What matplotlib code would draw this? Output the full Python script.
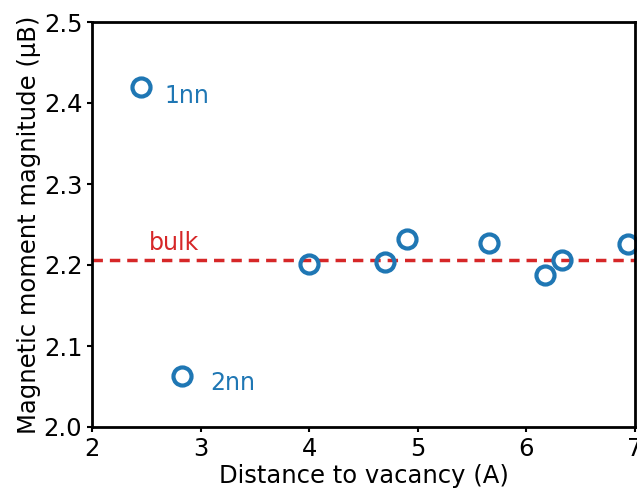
import matplotlib
matplotlib.use('Agg')
import matplotlib.pyplot as plt

# 距离空位的距离 和 磁矩
dist = [2.45, 2.83, 4.00, 4.70, 4.90, 5.66, 6.17, 6.33, 6.94]
moment = [2.420, 2.063, 2.201, 2.204, 2.232, 2.227, 2.188, 2.206, 2.226]
bulk = 2.206

labels = ['1nn', '2nn', 'bulk']
label_pos = [(2.67, 2.409), (3.09, 2.054), (2.52, 2.227)]

fig = plt.figure(figsize=(6.37, 4.88), dpi=100)
ax = fig.add_axes([92 / 637, 61 / 488, 543 / 637, 405 / 488])

ax.axhline(bulk, color='#d62728', linestyle='--', linewidth=2.5, dashes=(3, 2))
ax.plot(dist, moment, 'o', markersize=13, markerfacecolor='none',
        markeredgecolor='#1f77b4', markeredgewidth=3, clip_on=False)

ax.text(*label_pos[0], labels[0], color='#1f77b4', fontsize=17, va='center')
ax.text(*label_pos[1], labels[1], color='#1f77b4', fontsize=17, va='center')
ax.text(*label_pos[2], labels[2], color='#d62728', fontsize=17, va='center')

ax.set_xlim(2, 7)
ax.set_ylim(2.0, 2.5)
ax.set_xticks([2, 3, 4, 5, 6, 7])
ax.set_yticks([2.0, 2.1, 2.2, 2.3, 2.4, 2.5])
ax.tick_params(labelsize=17.5, width=1.5)
for s in ax.spines.values():
    s.set_linewidth(2)
ax.set_xlabel('Distance to vacancy (A)', fontsize=17.5, labelpad=2)
ax.set_ylabel('Magnetic moment magnitude (μB)', fontsize=17.5, labelpad=2)

plt.savefig('out.png')
